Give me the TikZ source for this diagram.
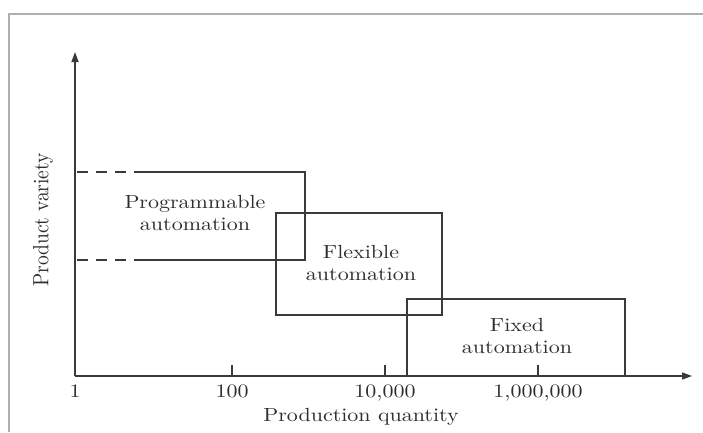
\documentclass[tikz,border=0pt]{standalone}
\usetikzlibrary{arrows.meta}
\definecolor{ink}{RGB}{58,58,58}
\definecolor{txt}{RGB}{45,45,45}
\definecolor{framegray}{RGB}{175,175,175}
\newcommand\wide[1]{\scalebox{2.2}[1.9]{\begin{tabular}{@{}c@{}}#1\end{tabular}}}
\newcommand\wideone[1]{\scalebox{2.2}[1.9]{#1}}
\tikzset{
  axisline/.style={draw=ink, line width=1.5pt},
  boxline/.style={draw=ink, line width=1.5pt},
  lbl/.style={text=txt, inner sep=0pt, align=center, font=\fontsize{10}{12}\selectfont},
  ticklbl/.style={lbl, anchor=base},
  tickmark/.style={draw=ink, line width=1.3pt},
  arrowtip/.style={-{Triangle[length=10pt,width=7pt]}},
}
\begin{document}
\begin{tikzpicture}[x=1pt,y=-1pt]
\useasboundingbox (0,0) rectangle (703,432);
% outer frame
\draw[framegray, line width=2pt] (9,432) -- (9,14) -- (703,14);

% axes
\coordinate (O) at (75,376);
\coordinate (ytop) at (75,52);
\coordinate (xend) at (692,376);
\draw[axisline, arrowtip] (O) -- (ytop);
\draw[axisline, arrowtip] (O) -- (xend);

% ticks
\foreach \x/\name in {232/t2, 385/t4, 538/t6} {
  \coordinate (\name) at (\x,376);
  \draw[tickmark] (\name) -- ++(0,-11);
}
\coordinate (t0) at (75,376);

% tick labels
\node[ticklbl] (l0) at ([yshift=-21pt]t0) {\wideone{1}};
\node[ticklbl] (l2) at ([yshift=-21pt]t2) {\wideone{100}};
\node[ticklbl] (l4) at ([yshift=-21pt]t4) {\wideone{10,000}};
\node[ticklbl] (l6) at ([yshift=-21pt]t6) {\wideone{1,000,000}};

% axis titles
\node[ticklbl] (xlab) at (361,421) {\wideone{Production quantity}};
\node[lbl, rotate=90] (ylab) at (43,220) {\scalebox{1.95}[2.2]{Product variety}};

% programmable automation box (dashed at left)
\coordinate (pa) at (77,172);
\coordinate (pb) at (135,172);
\coordinate (pc) at (305,172);
\coordinate (pd) at (305,260);
\coordinate (pe) at (135,260);
\coordinate (pf) at (77,260);
\draw[boxline, dash pattern=on 11pt off 8pt] (pa) -- (pb);
\draw[boxline, dash pattern=on 11pt off 8pt] (pf) -- (pe);
\draw[boxline] (pb) -- (pc) -- (pd) -- (pe);
\node[lbl] (prog) at (195,215) {\wide{Programmable\\automation}};

% flexible automation box
\node[boxline, minimum width=166pt, minimum height=102pt, inner sep=0pt] (flexbox) at (359,264) {};
\node[lbl] (flex) at (361,265) {\wide{Flexible\\automation}};

% fixed automation box
\node[boxline, minimum width=218pt, minimum height=77pt, inner sep=0pt] (fixbox) at (516,337.5) {};
\node[lbl] (fix) at (517,338) {\wide{Fixed\\automation}};
\end{tikzpicture}
\end{document}
